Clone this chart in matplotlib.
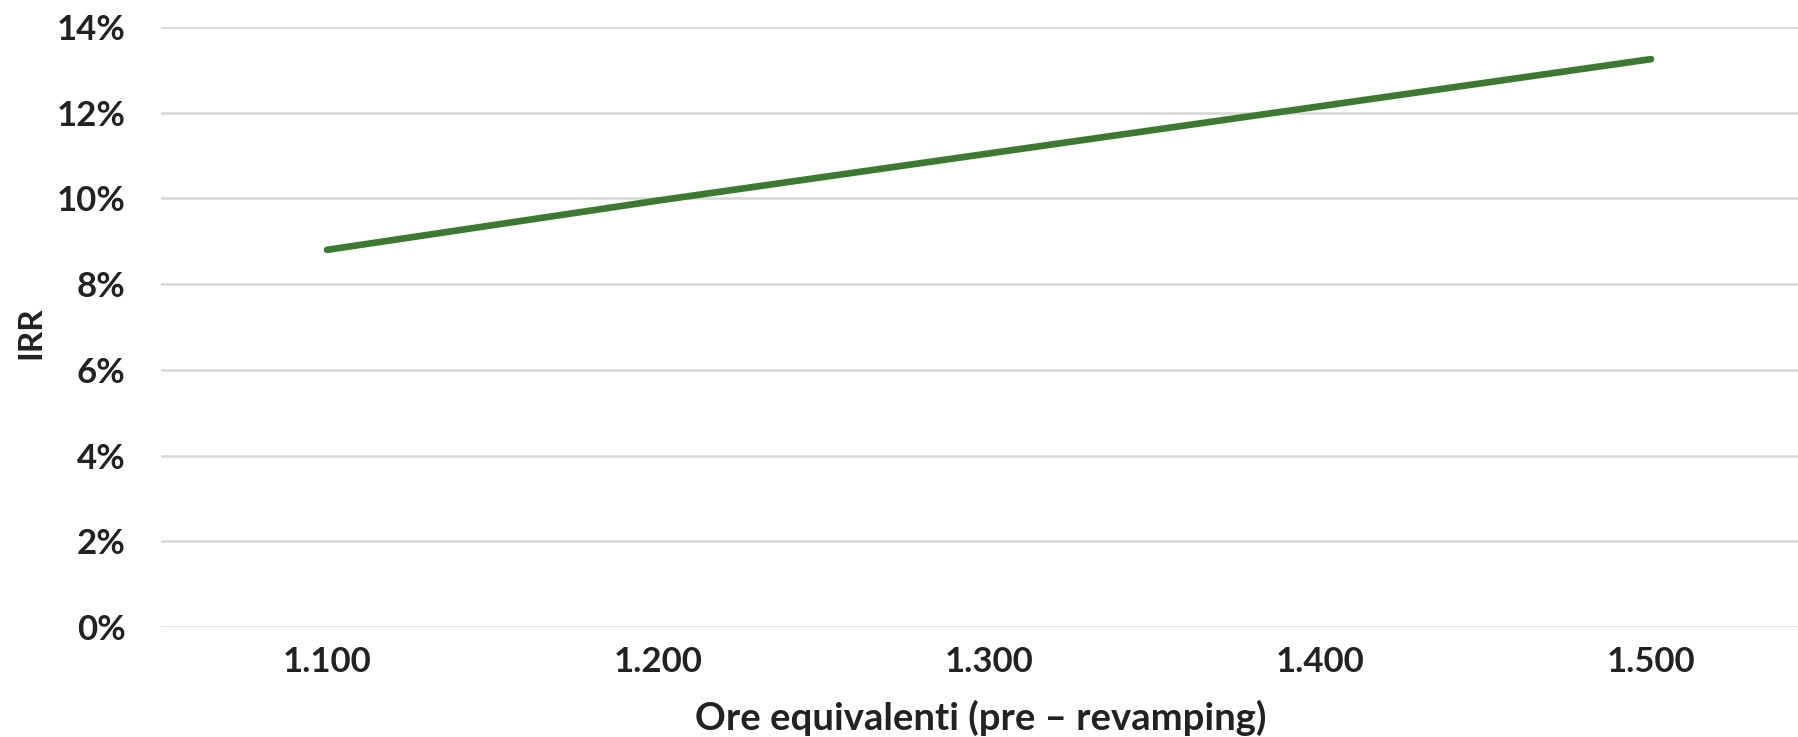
import matplotlib.pyplot as plt
from matplotlib.ticker import PercentFormatter

# Data
categories = ['1.100', '1.200', '1.300', '1.400', '1.500']
irr = [0.088, 0.0995, 0.1105, 0.1215, 0.1325]
y_ticks = [0, 0.02, 0.04, 0.06, 0.08, 0.10, 0.12, 0.14]

plt.rcParams['font.family'] = ['Lato', 'DejaVu Sans']

fig = plt.figure(figsize=(17.99, 7.37), dpi=100)
# plot area runs slightly past the right edge, like the cropped original
ax = fig.add_axes([161.5 / 1799, 1 - 627 / 737, 1655 / 1799, 600 / 737])

x = list(range(len(categories)))
ax.plot(x, irr, color='#3b7a30', linewidth=4.8, solid_capstyle='round', zorder=3)

ax.set_xlim(-0.5, len(categories) - 0.5)
ax.set_ylim(0, 0.14)
ax.set_yticks(y_ticks)
ax.yaxis.set_major_formatter(PercentFormatter(1.0, decimals=0))
ax.set_xticks(x)
ax.set_xticklabels(categories)

ax.grid(axis='y', color='#d6d8d4', linewidth=1.8)
ax.set_axisbelow(True)
for s in ax.spines.values():
    s.set_visible(False)
ax.tick_params(length=0, labelsize=25, colors='#222222')
ax.tick_params(axis='y', pad=26)
ax.tick_params(axis='x', pad=14)
for lab in ax.get_xticklabels() + ax.get_yticklabels():
    lab.set_fontweight('bold')

ax.set_ylabel('IRR', fontsize=24, fontweight='bold', color='#222222')
ax.set_xlabel('Ore equivalenti (pre – revamping)', fontsize=27.5, fontweight='bold',
              color='#222222')
ax.yaxis.set_label_coords(-0.07, 0.49)
ax.xaxis.set_label_coords(0.5 - 8 / 1655, -0.122)

fig.savefig('out.png', dpi=100)
